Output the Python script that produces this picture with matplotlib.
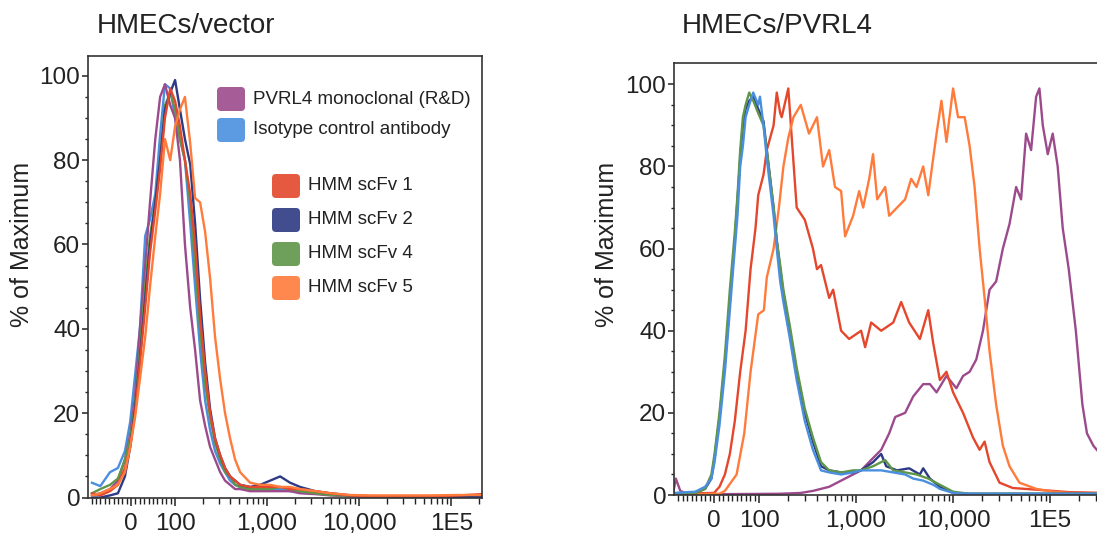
import matplotlib
matplotlib.use("Agg")
import matplotlib.pyplot as plt
from matplotlib.patches import FancyBboxPatch
from matplotlib.ticker import FixedLocator, FixedFormatter, NullFormatter

plt.rcParams['font.family'] = ['Liberation Sans', 'DejaVu Sans']

# Colours
PURPLE = '#9c4a8c'
BLUE = '#4a8fdf'
RED = '#e4472c'
NAVY = '#2d3a84'
GREEN = '#5f9649'
ORANGE = '#ff7b3b'

# Axis ticks
x_ticks = [0, 100, 1000, 10000, 100000]
x_ticklabels = ['0', '100', '1,000', '10,000', '1E5']
y_ticks = [0, 20, 40, 60, 80, 100]

# Legend
legend_top_labels = ['PVRL4 monoclonal (R&D)', 'Isotype control antibody']
legend_top_colors = [PURPLE, BLUE]
legend_bottom_labels = ['HMM scFv 1', 'HMM scFv 2', 'HMM scFv 4', 'HMM scFv 5']
legend_bottom_colors = [RED, NAVY, GREEN, ORANGE]

# ---- HMECs/vector (left panel), shared fluorescence grid ----
vec_x = [-89, -70, -48, -30, -14, -2, 9, 20, 32, 43, 55, 66, 77, 89, 100,
         113, 128, 146, 165, 187, 212, 240, 272, 309, 349, 396, 449, 509,
         654, 839, 1078, 1385, 1778, 2284, 3333, 4864, 7980, 13100, 27800,
         59000, 125000, 216000]
vec_pvrl4 = [0.5, 1, 2, 4, 9, 15, 24, 40, 55, 70, 85, 95, 98, 93, 90,
             80, 60, 45, 35, 23, 17, 12, 9, 6, 4, 3, 2, 2,
             1.5, 1.5, 1.5, 1.5, 1.5, 1, 0.8, 0.5, 0.3, 0.2, 0.2,
             0.2, 0.3, 0.5]
vec_isotype = [3.5, 2.7, 6, 7, 11, 18, 29, 40, 62, 66, 72, 86, 98, 97, 90,
               85, 80, 65, 50, 35, 23, 16, 11, 8, 6, 4, 3, 2.5,
               2, 2, 2, 2, 1.5, 1.5, 1, 0.6, 0.4, 0.3, 0.3,
               0.3, 0.3, 0.4]
vec_scfv1 = [1, 0.5, 1.5, 3, 7, 12, 20, 32, 45, 58, 68, 78, 90, 97, 94,
             88, 80, 72, 60, 43, 30, 20, 14, 10, 7, 5, 4, 3,
             2.5, 2.5, 2.5, 2.5, 2, 2, 1.5, 1, 0.5, 0.3, 0.3,
             0.3, 0.5, 0.8]
vec_scfv2 = [0, 0, 0.5, 1, 5, 12, 21, 33, 47, 60, 70, 80, 92, 96, 99,
             92, 85, 79, 65, 47, 32, 21, 14, 10, 7, 5, 4, 3,
             2.5, 3, 4, 5, 3.5, 2.5, 1.5, 1, 0.5, 0.3, 0.2,
             0.2, 0.2, 0.2]
vec_scfv4 = [1, 2, 3, 4.5, 9, 14, 22, 35, 50, 62, 70, 80, 93, 96, 92,
             85, 80, 70, 55, 40, 27, 19, 13, 9, 6, 5, 3, 2.5,
             2, 2, 2, 2.5, 2, 1.5, 1, 0.6, 0.4, 0.3, 0.3,
             0.3, 0.3, 0.3]
vec_scfv5 = [0.5, 1, 2, 3, 6, 12, 19, 28, 38, 50, 62, 72, 85, 80, 88,
             92, 95, 84, 71, 70, 63, 52, 38, 28, 20, 14, 9, 6,
             3.5, 3, 3, 2.5, 2.5, 2, 1.5, 1, 0.6, 0.5, 0.5,
             0.5, 0.6, 0.6]

# ---- HMECs/PVRL4 (right panel) ----
pv_pvrl4_x = [-90, -85, -75, -60, 0, 160, 269, 359, 528, 770, 1127, 1496,
              1815, 2193, 2533, 3203, 3884, 4920, 5770, 6760, 8550, 10830,
              12680, 14820, 17360, 20350, 23790, 27820, 32630, 38220, 44720,
              50310, 56680, 63830, 71890, 77740, 84240, 94770, 106600, 120000,
              135200, 156000, 184600, 215800, 240500, 280000, 330000, 370000]
pv_pvrl4_y = [1, 4, 1, 0.3, 0.2, 0.3, 0.5, 1, 2, 4, 6, 9,
              11, 15, 19, 20, 24, 27, 27, 25, 29, 26,
              29, 30, 33, 40, 50, 52, 60, 66, 75,
              72, 88, 84, 97, 99, 90, 83, 88, 80,
              65, 55, 40, 22, 15, 12, 10, 8]

pv_isotype_x = [-90, -42, -20, -6, 1, 12, 24, 35, 46, 52, 58, 64, 70, 78,
                87, 98, 102, 111, 120, 130, 141, 152, 165, 178, 208, 244,
                296, 359, 435, 528, 701, 932, 1127, 1496, 1815, 2416, 3203,
                3884, 4920, 6240, 7310, 10010, 14820, 370000]
pv_isotype_y = [0.5, 0.8, 2, 4, 8, 17, 30, 45, 60, 68, 80, 85, 92, 95,
                98, 95, 97, 90, 82, 75, 68, 60, 52, 47, 38, 28,
                18, 11, 6, 5.5, 5, 5.5, 6, 6, 6, 5.5, 5,
                4, 3.5, 2.5, 1.5, 0.5, 0.3, 0.3]

pv_scfv2_x = [-90, -42, -20, -6, 1, 12, 24, 35, 46, 52, 58, 64, 70, 78,
              87, 98, 111, 120, 130, 141, 152, 165, 178, 208, 244, 296,
              359, 435, 528, 701, 932, 1127, 1496, 1815, 2045, 2650, 3527,
              4550, 4920, 5770, 7310, 10010, 14820, 370000]
pv_scfv2_y = [0.3, 0.5, 1.5, 4, 9, 19, 32, 47, 62, 72, 82, 90, 94, 96,
              97, 94, 91, 84, 77, 70, 62, 55, 49, 40, 30, 20,
              13, 7, 6, 5.5, 5.5, 6, 8, 10, 7, 6, 6.5,
              5, 6.5, 4, 2, 0.5, 0.3, 0.3]

pv_scfv4_x = [-90, -42, -20, -6, 1, 12, 24, 35, 46, 52, 58, 64, 70, 78,
              87, 98, 111, 120, 130, 141, 152, 165, 178, 208, 244, 296,
              359, 435, 528, 701, 932, 1127, 1496, 1996, 2416, 3203, 4200,
              5550, 7310, 10010, 14820, 370000]
pv_scfv4_y = [0.3, 0.5, 1.5, 5, 10, 20, 34, 50, 64, 73, 84, 92, 95, 98,
              96, 93, 90, 84, 77, 70, 62, 56, 50, 41, 31, 21,
              14, 8, 6, 5.5, 6, 6, 7, 8.5, 6, 5.5, 5,
              4, 2.5, 0.8, 0.3, 0.3]

pv_scfv1_x = [-90, 0, 12, 24, 35, 46, 58, 70, 81, 92, 98, 111, 120, 141,
              152, 165, 171, 200, 217, 244, 296, 359, 395, 435, 528, 580,
              701, 848, 1127, 1240, 1431, 1815, 2416, 2917, 3527, 4550, 5550,
              6240, 7310, 8550, 10010, 12680, 16060, 18790, 21150, 23790,
              30160, 41340, 71890, 106600, 156000, 370000]
pv_scfv1_y = [0.3, 0.5, 2, 5, 10, 18, 30, 40, 55, 65, 73, 78, 84, 90,
              98, 93, 92, 99, 87, 70, 67, 60, 55, 56, 48, 50,
              40, 38, 40, 36, 42, 40, 42, 47, 42, 38, 45,
              37, 28, 30, 25, 20, 14, 11, 13, 8,
              3, 1.7, 1.3, 1, 0.7, 0.5]

pv_scfv5_x = [-90, 12, 24, 50, 67, 81, 98, 112, 120, 141, 160, 178, 200,
              226, 269, 327, 395, 456, 528, 606, 701, 770, 932, 1075, 1183,
              1365, 1496, 1650, 1996, 2193, 2650, 3203, 3697, 4200, 4920,
              5550, 6240, 6760, 7590, 8550, 10010, 11270, 13180, 14820, 16680,
              18790, 21150, 23790, 27820, 32630, 38220, 48360, 71890, 106600,
              156000, 370000]
pv_scfv5_y = [0.2, 0.3, 1, 5, 15, 30, 44, 45, 53, 60, 70, 80, 87,
              92, 95, 88, 92, 80, 84, 75, 74, 63, 68, 74, 70,
              77, 83, 72, 75, 68, 70, 72, 77, 75, 80,
              73, 82, 88, 96, 86, 99, 92, 92, 85, 75,
              60, 48, 35, 22, 12, 7, 3, 1.5, 0.8,
              0.5, 0.4]


def x_minor_ticks():
    ticks = [v for v in range(-90, 100, 10) if v != 0]
    for decade in [100, 1000, 10000, 100000]:
        ticks += [m * decade for m in range(2, 10)]
    return ticks


def style_axes(ax, xmin, xmax, ymax, linscale):
    ax.set_xscale('symlog', linthresh=100, linscale=linscale, base=10)
    ax.set_xlim(xmin, xmax)
    ax.set_ylim(0, ymax)
    ax.xaxis.set_major_locator(FixedLocator(x_ticks))
    ax.xaxis.set_major_formatter(FixedFormatter(x_ticklabels))
    ax.xaxis.set_minor_locator(FixedLocator(x_minor_ticks()))
    ax.xaxis.set_minor_formatter(NullFormatter())
    ax.yaxis.set_major_locator(FixedLocator(y_ticks))
    ax.yaxis.set_minor_locator(FixedLocator(list(range(5, 101, 5))))
    ax.tick_params(axis='both', which='major', direction='out', color='#222222',
                   width=1.1, labelsize=17.5, colors='#222222')
    ax.tick_params(axis='x', which='major', length=6, pad=5)
    ax.tick_params(axis='x', which='minor', length=4.5, width=1.0, color='#222222')
    ax.tick_params(axis='y', which='major', length=4.5, pad=1)
    ax.tick_params(axis='y', which='minor', length=2.5, width=1.0, color='#222222')
    for sp in ax.spines.values():
        sp.set_color('#333333')
        sp.set_linewidth(1.2)


W, H = 1097, 541
fig = plt.figure(figsize=(W / 100, H / 100), dpi=100)
lw = 1.7

# Left panel
ax1 = fig.add_axes([88 / W, 1 - 497.5 / H, 394 / W, 441.5 / H])
style_axes(ax1, -98, 216000, 104.7, 0.43)
ax1.plot(vec_x, vec_isotype, color=BLUE, lw=lw)
ax1.plot(vec_x, vec_pvrl4, color=PURPLE, lw=lw)
ax1.plot(vec_x, vec_scfv4, color=GREEN, lw=lw)
ax1.plot(vec_x, vec_scfv2, color=NAVY, lw=lw)
ax1.plot(vec_x, vec_scfv1, color=RED, lw=lw)
ax1.plot(vec_x, vec_scfv5, color=ORANGE, lw=lw)

# Right panel (runs past the right edge of the figure, as in the source)
ax2 = fig.add_axes([674 / W, 1 - 495 / H, 431 / W, 432 / H])
style_axes(ax2, -89, 369000, 105.2, 0.418)
ax2.plot(pv_pvrl4_x, pv_pvrl4_y, color=PURPLE, lw=lw)
ax2.plot(pv_scfv1_x, pv_scfv1_y, color=RED, lw=lw)
ax2.plot(pv_scfv5_x, pv_scfv5_y, color=ORANGE, lw=lw)
ax2.plot(pv_scfv2_x, pv_scfv2_y, color=NAVY, lw=lw)
ax2.plot(pv_scfv4_x, pv_scfv4_y, color=GREEN, lw=lw)
ax2.plot(pv_isotype_x, pv_isotype_y, color=BLUE, lw=lw)

# Titles and axis labels
fig.text(97 / W, 1 - 33 / H, 'HMECs/vector', fontsize=20, ha='left',
         va='baseline', color='#222222')
fig.text(682 / W, 1 - 33 / H, 'HMECs/PVRL4', fontsize=20, ha='left',
         va='baseline', color='#222222')
fig.text(22 / W, 1 - 244 / H, '% of Maximum', fontsize=18, rotation=90,
         ha='center', va='center', color='#222222')
fig.text(607 / W, 1 - 244 / H, '% of Maximum', fontsize=18, rotation=90,
         ha='center', va='center', color='#222222')


# Legend (drawn by hand, in inches from the figure's lower left)
def legend_entry(x_px, y_px, label, color):
    box = FancyBboxPatch((x_px / 100, (H - y_px - 12) / 100), 0.28, 0.24,
                         boxstyle='round,pad=0,rounding_size=0.04',
                         transform=fig.dpi_scale_trans, facecolor=color,
                         edgecolor='none', alpha=0.9)
    fig.add_artist(box)
    fig.text((x_px + 36) / W, 1 - y_px / H, label, fontsize=13.5,
             ha='left', va='center', color='#222222')


for i, (lab, col) in enumerate(zip(legend_top_labels, legend_top_colors)):
    legend_entry(217, 99 + 31 * i, lab, col)
for i, (lab, col) in enumerate(zip(legend_bottom_labels, legend_bottom_colors)):
    legend_entry(272, 186 + 34 * i, lab, col)

fig.savefig('out.png', dpi=100)
